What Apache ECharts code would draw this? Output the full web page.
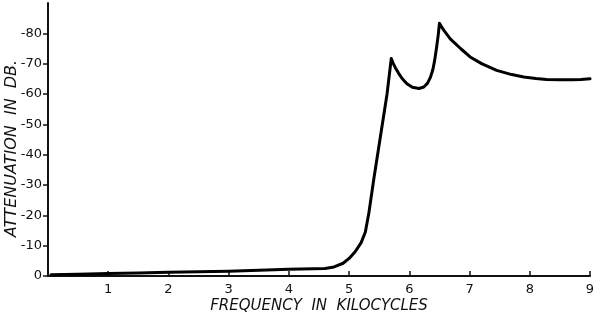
<!DOCTYPE html>
<html>
<head>
<meta charset="utf-8">
<script src="https://cdn.jsdelivr.net/npm/echarts@6/dist/echarts.min.js"></script>
<style>
html,body{margin:0;padding:0;background:#fff;}
#chart{width:600px;height:315px;}
</style>
</head>
<body>
<div id="chart"></div>
<script>
// Frequency in kilocycles
const freq = [0.05, 0.5, 1, 1.5, 2, 2.5, 3, 3.5, 4, 4.4, 4.6, 4.75, 4.9, 5.0, 5.1, 5.2, 5.27, 5.33, 5.41, 5.52, 5.63, 5.70,
  5.73, 5.77, 5.82, 5.88, 5.96, 6.05, 6.16, 6.24, 6.30, 6.35, 6.39, 6.42, 6.45, 6.48, 6.50,
  6.53, 6.58, 6.68, 6.85, 7.01, 7.2, 7.45, 7.7, 7.9, 8.1, 8.28, 8.5, 8.7, 8.85, 9.0];
// Attenuation in dB (plotted magnitude; axis labels carry the minus sign)
const atten = [0.4, 0.6, 0.8, 1.0, 1.2, 1.4, 1.6, 1.9, 2.2, 2.4, 2.5, 3.0, 4.2, 5.8, 8.0, 11.0, 14.5, 21, 32, 46, 60, 71.7,
  70.2, 68.6, 66.9, 65.1, 63.4, 62.2, 61.8, 62.3, 63.5, 65.5, 68, 71, 75, 79.5, 83.3,
  82.3, 80.8, 78.2, 75, 72.2, 70, 67.8, 66.4, 65.6, 65.1, 64.8, 64.7, 64.7, 64.8, 65.0];
const yTickValues = [0, 10, 20, 30, 40, 50, 60, 70, 80];
const yTickLabels = ['0', '-10', '-20', '-30', '-40', '-50', '-60', '-70', '-80'];
const xTickValues = [1, 2, 3, 4, 5, 6, 7, 8, 9];
const xTickLabels = ['1', '2', '3', '4', '5', '6', '7', '8', '9'];

const font = 'DejaVu Sans';
const chart = echarts.init(document.getElementById('chart'), null, {renderer: 'canvas'});
chart.setOption({
  backgroundColor: '#ffffff',
  animation: false,
  grid: {left: 48, right: 10, top: 3, bottom: 39, containLabel: false, outerBoundsMode: 'none'},
  xAxis: {
    type: 'value', min: 0, max: 9,
    name: 'FREQUENCY  IN  KILOCYCLES', nameLocation: 'middle', nameGap: 23, nameMoveOverlap: false,
    nameTextStyle: {fontFamily: font, fontStyle: 'italic', fontSize: 15, color: '#111'},
    axisLine: {show: true, lineStyle: {color: '#111', width: 2}},
    axisTick: {show: true, inside: true, length: 5, customValues: xTickValues, lineStyle: {color: '#111', width: 1.5}},
    axisLabel: {customValues: xTickValues, fontFamily: font, fontSize: 13, color: '#111', margin: 7,
      formatter: v => xTickLabels[xTickValues.indexOf(v)] || ''},
    splitLine: {show: false}
  },
  yAxis: {
    type: 'value', min: 0, max: 90,
    name: 'ATTENUATION  IN  DB.', nameLocation: 'middle', nameGap: 28, nameRotate: 90, nameMoveOverlap: false,
    nameTextStyle: {fontFamily: font, fontStyle: 'italic', fontSize: 16, color: '#111', padding: [0, 18, 0, 0]},
    axisLine: {show: true, lineStyle: {color: '#111', width: 2}},
    axisTick: {show: true, inside: false, length: 5, customValues: yTickValues, lineStyle: {color: '#111', width: 1.5}},
    axisLabel: {customValues: yTickValues, fontFamily: font, fontSize: 13, color: '#111', margin: 6,
      formatter: v => yTickLabels[yTickValues.indexOf(v)] || ''},
    splitLine: {show: false}
  },
  series: [{
    type: 'line',
    data: freq.map((f, i) => [f, atten[i]]),
    showSymbol: false,
    smooth: false,
    lineStyle: {color: '#000', width: 3, join: 'round', cap: 'round'}
  }]
});
</script>
</body>
</html>
